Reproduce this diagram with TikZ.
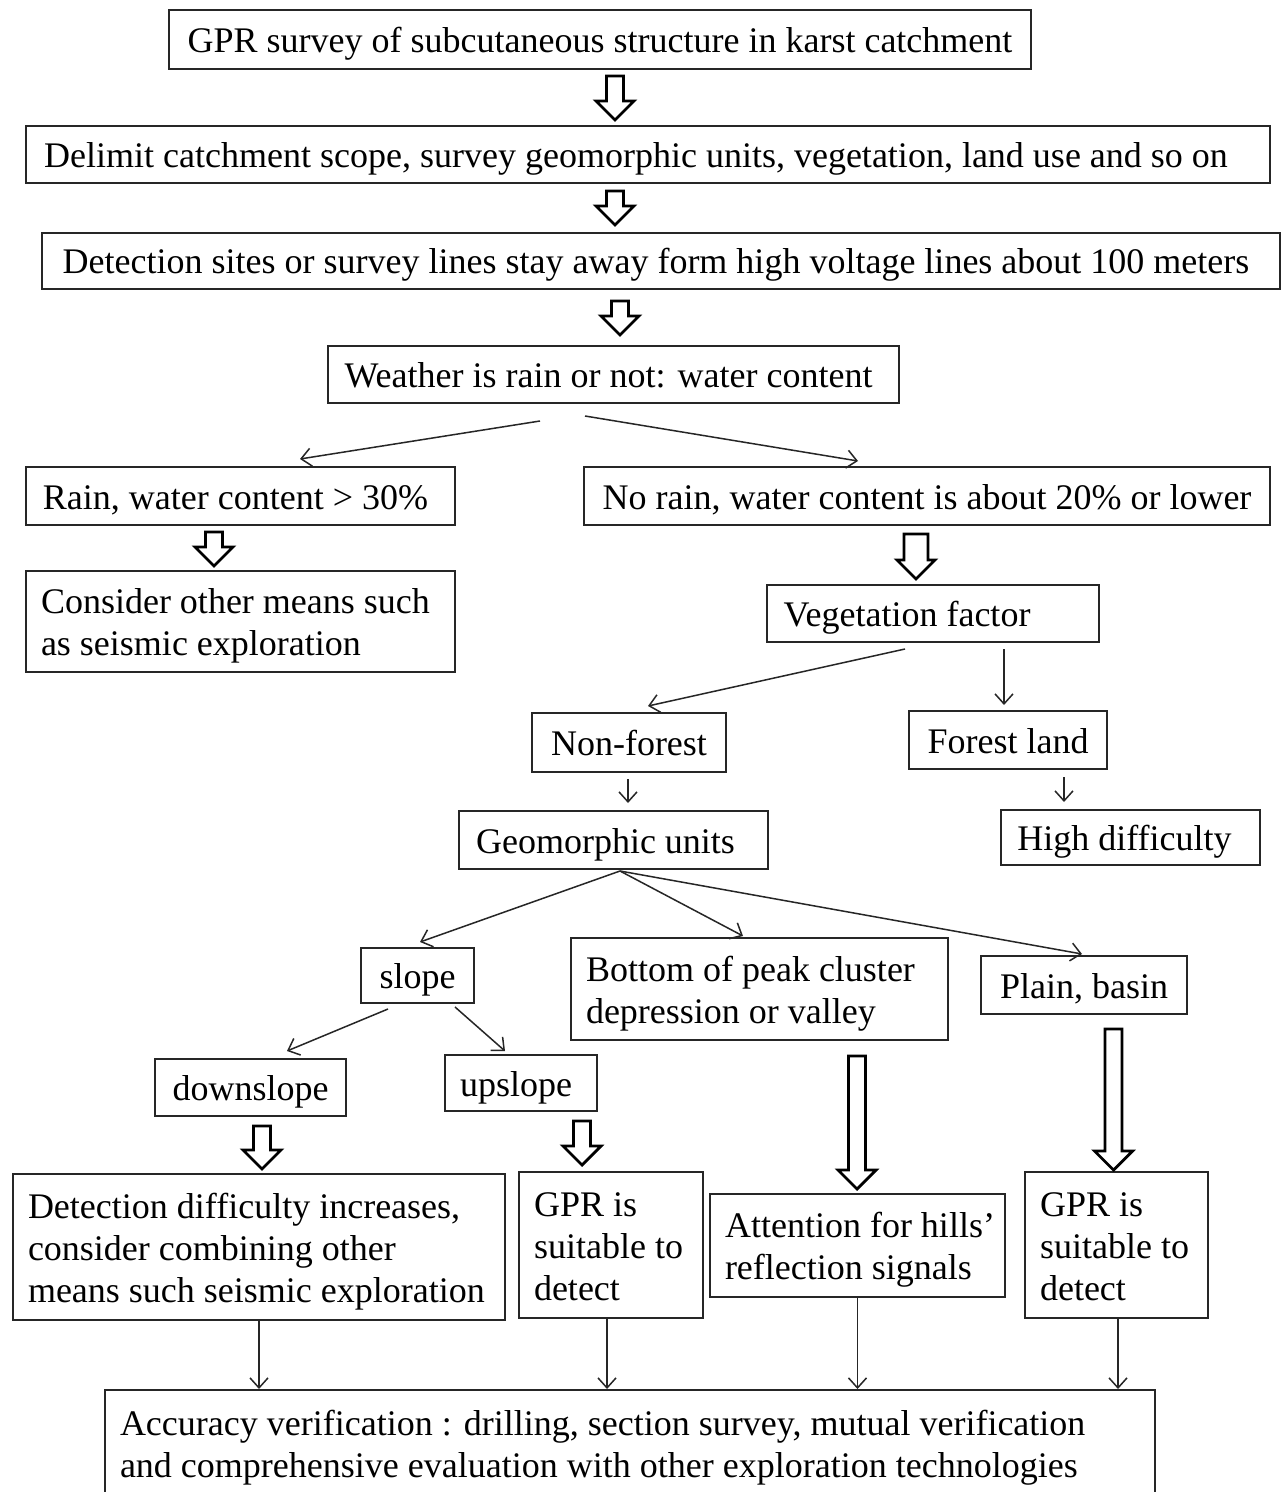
\documentclass[tikz,border=0pt]{standalone}
\usepackage{fontspec}
\setmainfont{Liberation Serif}
\usetikzlibrary{calc,arrows.meta}
\tikzset{
  box/.style={draw=black!85, line width=1pt, inner sep=0pt, fill=white,
    font=\fontsize{18}{21}\selectfont, text height=14pt, text depth=1pt},
  mbox/.style={box, text depth=22pt},
  mboxiii/.style={box, text depth=43pt},
  thin/.style={draw=black!85, line width=0.75pt, -{Straight Barb[length=5pt,width=9pt]}},
  blockarr/.style={draw=black, line width=1.4pt, line join=miter, fill=white}
}
\newcommand\lefttext[2]{\makebox[#1][l]{\begin{tabular}[t]{@{}l@{}}#2\end{tabular}}}
\newcommand\shl[1]{\hspace*{-#1pt}}
\newcommand\blockarrow[3][4.25pt]{%
  \draw[blockarr] let \p1=(#2), \p2=(#3) in
   (\x1-#1,\y1) -- (\x1+#1,\y1) -- (\x1+#1,\y2+9.5pt) -- (\x1+9.5pt,\y2+9.5pt)
   -- (\x1,\y2) -- (\x1-9.5pt,\y2+9.5pt) -- (\x1-#1,\y2+9.5pt) -- cycle;}
\begin{document}
\begin{tikzpicture}[x=0.5pt,y=-0.5pt]
\useasboundingbox[fill=white] (0,0) rectangle (1283,1492);
% nodes
\node[box, minimum width=431pt, minimum height=29.5pt] (top) at (600,39.5) {GPR survey of subcutaneous structure in karst catchment};
\node[box, minimum width=622pt, minimum height=28.5pt] (delimit) at (648,154.5) {\shl{12}Delimit catchment scope, survey geomorphic units, vegetation, land use and so on};
\node[box, minimum width=619pt, minimum height=28pt] (detect) at (661,261) {\shl{5}Detection sites or survey lines stay away form high voltage lines about 100 meters};
\node[box, minimum width=285.5pt, minimum height=28.5pt] (weather) at (613.5,374.5) {\shl{5}Weather is rain or not: water content};
\node[box, minimum width=214.5pt, minimum height=29pt] (rain) at (240.5,496) {\shl{5}Rain, water content > 30\%};
\node[box, minimum width=343pt, minimum height=29pt] (norain) at (927,496) {No rain, water content is about 20\% or lower};
\node[mbox, minimum width=214.5pt, minimum height=50.5pt] (consider) at (240.5,621.5) {\lefttext{199.5pt}{Consider other means such\\as seismic exploration}};
\node[box, minimum width=166pt, minimum height=28.5pt] (veg) at (933,613.5) {\shl{26}Vegetation factor};
\node[box, minimum width=97pt, minimum height=29.5pt] (nonforest) at (629,742.5) {Non-forest};
\node[box, minimum width=99pt, minimum height=29pt] (forest) at (1008,740) {Forest land};
\node[box, minimum width=154.5pt, minimum height=29pt] (geo) at (613.5,840) {\shl{8}Geomorphic units};
\node[box, minimum width=129.5pt, minimum height=27.5pt] (high) at (1130.5,837.5) {\shl{6}High difficulty};
\node[box, minimum width=56.5pt, minimum height=27.5pt] (slope) at (417.5,975.5) {slope};
\node[mbox, minimum width=188.5pt, minimum height=51pt] (bottom) at (759.5,989) {\lefttext{173.5pt}{Bottom of peak cluster\\depression or valley}};
\node[box, minimum width=103pt, minimum height=29pt] (plain) at (1084,985) {Plain, basin};
\node[box, minimum width=95.5pt, minimum height=28.5pt] (down) at (250.5,1087.5) {downslope};
\node[box, minimum width=76pt, minimum height=28pt] (up) at (521,1083) {\shl{5}upslope};
\node[mboxiii, minimum width=246pt, minimum height=73pt] (detdiff) at (259,1247) {\lefttext{231pt}{Detection difficulty increases,\\consider combining other\\means such seismic exploration}};
\node[mboxiii, minimum width=92pt, minimum height=73pt] (gpr1) at (611,1245) {\lefttext{77pt}{GPR is\\suitable to\\detect}};
\node[mbox, minimum width=147.5pt, minimum height=51.5pt] (attn) at (857.5,1245.5) {\lefttext{132.5pt}{Attention for hills’\\reflection signals}};
\node[mboxiii, minimum width=91.5pt, minimum height=73pt] (gpr2) at (1116.5,1245) {\lefttext{76.5pt}{GPR is\\suitable to\\detect}};
\node[mbox, minimum width=525pt, minimum height=53pt] (acc) at (630,1443) {\lefttext{510pt}{Accuracy verification : drilling, section survey, mutual verification\\and comprehensive evaluation with other exploration technologies}};
% block arrows
\blockarrow{$(top.south)+(15,6)$}{$(delimit.north)+(-33,-5)$}
\blockarrow{$(delimit.south)+(-33,7)$}{$(detect.north)+(-46,-7)$}
\blockarrow{$(detect.south)+(-41,11)$}{$(weather.north)+(6.5,-10)$}
\blockarrow{$(rain.south)+(-26.5,6)$}{$(consider.north)+(-26.5,-4)$}
\blockarrow[6pt]{$(norain.south)+(-11,8)$}{$(veg.north)+(-17,-5)$}
\blockarrow{$(down.south)+(11.5,9)$}{$(detdiff.north)+(3,-4)$}
\blockarrow{$(up.south)+(61,9)$}{$(gpr1.north)+(-29,-6)$}
\blockarrow{$(bottom.south)+(97.5,15)$}{$(attn.north)+(0,-4)$}
\blockarrow{$(plain.south)+(29.5,14)$}{$(gpr2.north)+(-2.5,-1)$}
% thin arrows
\draw[thin] ($(weather.south)+(-73.5,17)$) -- ($(rain.north)+(59.5,-7)$);
\draw[thin] ($(weather.south)+(-28.5,12)$) -- ($(norain.north)+(-69,-5)$);
\draw[thin] ($(veg.south)+(-28,6)$) -- ($(nonforest.north)+(19,-6)$);
\draw[thin] ($(veg.south)+(71,6)$) -- ($(forest.north)+(-4,-5)$);
\draw[thin] ($(nonforest.south)+(-1,6)$) -- ($(geo.north)+(14.5,-7)$);
\draw[thin] ($(forest.south)+(56,7)$) -- ($(high.north)+(-66.5,-7)$);
\coordinate (gs) at ($(geo.south)+(6.5,1)$);
\draw[thin] (gs) -- ($(slope.north)+(2.5,-5)$);
\draw[thin] (gs) -- ($(bottom.north)+(-16.5,-1)$);
\draw[thin] (gs) -- ($(plain.north)+(-2,-1)$);
\draw[thin] ($(slope.south)+(-29.5,5)$) -- ($(down.north)+(36.5,-7)$);
\draw[thin] ($(slope.south)+(37.5,3)$) -- ($(up.north)+(-16,-3)$);
\draw[thin] (detdiff.south) -- (detdiff.south |- acc.north);
\draw[thin] ($(gpr1.south)+(-4,0)$) coordinate (g1) -- (g1 |- acc.north);
\draw[thin] (attn.south) -- (attn.south |- acc.north);
\draw[thin] ($(gpr2.south)+(1.5,0)$) coordinate (g2) -- (g2 |- acc.north);
\end{tikzpicture}
\end{document}
